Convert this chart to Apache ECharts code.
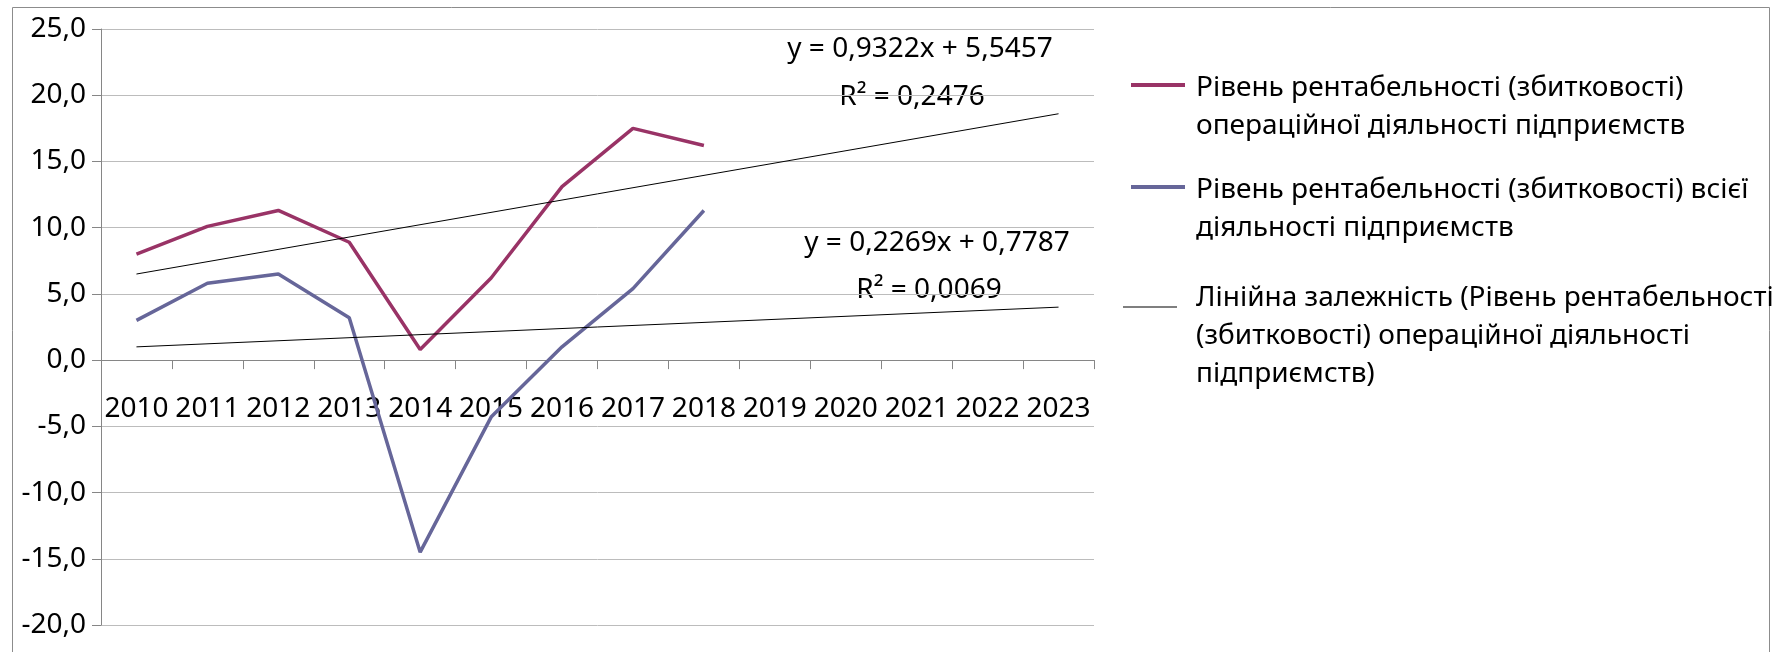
<!DOCTYPE html>
<html>
<head>
<meta charset="utf-8">
<title>Рівень рентабельності</title>
<script src="https://cdn.jsdelivr.net/npm/echarts@6/dist/echarts.min.js"></script>
<style>
    html, body { margin: 0; padding: 0; background: #fff; }
    #chart { width: 1784px; height: 652px; }
</style>
</head>
<body>
<div id="chart"></div>
<script>
//---------------------------------------- data
var years = ['2010', '2011', '2012', '2013', '2014', '2015', '2016',
    '2017', '2018', '2019', '2020', '2021', '2022', '2023'];
var operating = [8.0, 10.1, 11.3, 8.9, 0.8, 6.2, 13.1, 17.5, 16.2];
var total = [3.0, 5.8, 6.5, 3.2, -14.5, -4.3, 1.0, 5.4, 11.3];
// trend lines: only the two ends
var trendOperating = [6.5, null, null, null, null, null, null, null, null, null, null, null, null, 18.6];
var trendTotal = [1.0, null, null, null, null, null, null, null, null, null, null, null, null, 4.0];
var yMin = -20, yMax = 25, yStep = 5;
var trendLabels = ['y = 0,9322x + 5,5457', 'R² = 0,2476', 'y = 0,2269x + 0,7787', 'R² = 0,0069'];

var nameOperating = 'Рівень рентабельності (збитковості)\nопераційної діяльності підприємств';
var nameTotal = 'Рівень рентабельності (збитковості) всієї\nдіяльності підприємств';
var nameTrend = 'Лінійна залежність (Рівень рентабельності\n(збитковості) операційної діяльності\nпідприємств)';
var nameTrend2 = 'Лінійна залежність (всієї діяльності)';

var FONT = '"Noto Sans", "Open Sans", sans-serif';
var GRID = {left: 101, right: 690, top: 29, bottom: 27};

//---------------------------------------- legend helper
// the icon sits on the first text line: a spacer line of height `spacer` goes on top
function legendItem(name, left, top, iconH, spacer, padLeft) {
    return {
        data: [{name: name, icon: 'rect'}],
        orient: 'vertical',
        left: left,
        top: top,
        padding: 0,
        itemWidth: 54,
        itemHeight: iconH,
        selectedMode: false,
        formatter: function (n) {
            return '{s| }\n' + n.split('\n').map(function (l) {
                return '{t|' + l + '}';
            }).join('\n');
        },
        textStyle: {
            padding: [0, 0, 0, padLeft],
            rich: {
                s: {fontSize: 10, lineHeight: spacer},
                t: {fontFamily: FONT, fontSize: 28, lineHeight: 38, color: '#000'}
            }
        }
    };
}

function trendText(text, x, y) {
    return {
        type: 'text',
        x: x,
        y: y,
        silent: true,
        style: {
            text: text,
            fontSize: 28,
            fontFamily: FONT,
            fill: '#000',
            align: 'center',
            verticalAlign: 'middle'
        }
    };
}

var gridH = 652 - GRID.top - GRID.bottom;
var zeroOffset = -gridH * (0 - yMin) / (yMax - yMin);

echarts.init(document.getElementById('chart')).setOption({
    animation: false,
    textStyle: {fontFamily: FONT},
    grid: {left: GRID.left, right: GRID.right, top: GRID.top, bottom: GRID.bottom, outerBoundsMode: 'none'},
    xAxis: {
        type: 'category',
        data: years,
        boundaryGap: true,
        offset: zeroOffset,
        axisLine: {onZero: false, lineStyle: {color: '#868686', width: 1}},
        axisTick: {show: true, length: 9, lineStyle: {color: '#868686'}},
        axisLabel: {interval: 0, hideOverlap: false, margin: 35, fontSize: 28, color: '#000'},
        splitLine: {show: false}
    },
    yAxis: {
        type: 'value',
        min: yMin,
        max: yMax,
        interval: yStep,
        axisLine: {show: true, lineStyle: {color: '#868686', width: 1}},
        axisTick: {show: true, length: 9, lineStyle: {color: '#868686'}},
        axisLabel: {
            margin: 15,
            fontSize: 28,
            color: '#000',
            formatter: function (v) {
                return v.toFixed(1).replace('.', ',');
            }
        },
        splitLine: {show: true, lineStyle: {color: '#bcbcbc', width: 1}}
    },
    legend: [
        legendItem(nameOperating, 1131, 42, 4, 44, 6),
        legendItem(nameTotal, 1131, 144, 4, 44, 6),
        legendItem(nameTrend, 1123, 245, 1, 58, 14)
    ],
    series: [
        {
            name: nameOperating,
            type: 'line',
            data: operating,
            symbol: 'none',
            lineStyle: {color: '#993366', width: 3.5},
            itemStyle: {color: '#993366'}
        },
        {
            name: nameTotal,
            type: 'line',
            data: total,
            symbol: 'none',
            lineStyle: {color: '#666699', width: 3.5},
            itemStyle: {color: '#666699'}
        },
        {
            name: nameTrend,
            type: 'line',
            data: trendOperating,
            connectNulls: true,
            symbol: 'none',
            lineStyle: {color: '#000', width: 1},
            itemStyle: {color: '#000'},
            z: 4
        },
        {
            name: nameTrend2,
            type: 'line',
            data: trendTotal,
            connectNulls: true,
            symbol: 'none',
            lineStyle: {color: '#000', width: 1},
            itemStyle: {color: '#000'},
            z: 4
        }
    ],
    graphic: [
        {
            type: 'rect',
            silent: true,
            z: -10,
            shape: {x: 12.5, y: 7.5, width: 1757, height: 700},
            style: {fill: 'none', stroke: '#8c8c8c', lineWidth: 1}
        },
        trendText(trendLabels[0], 920, 49),
        trendText(trendLabels[1], 912, 97),
        trendText(trendLabels[2], 937, 243),
        trendText(trendLabels[3], 929, 290)
    ]
});
</script>
</body>
</html>
